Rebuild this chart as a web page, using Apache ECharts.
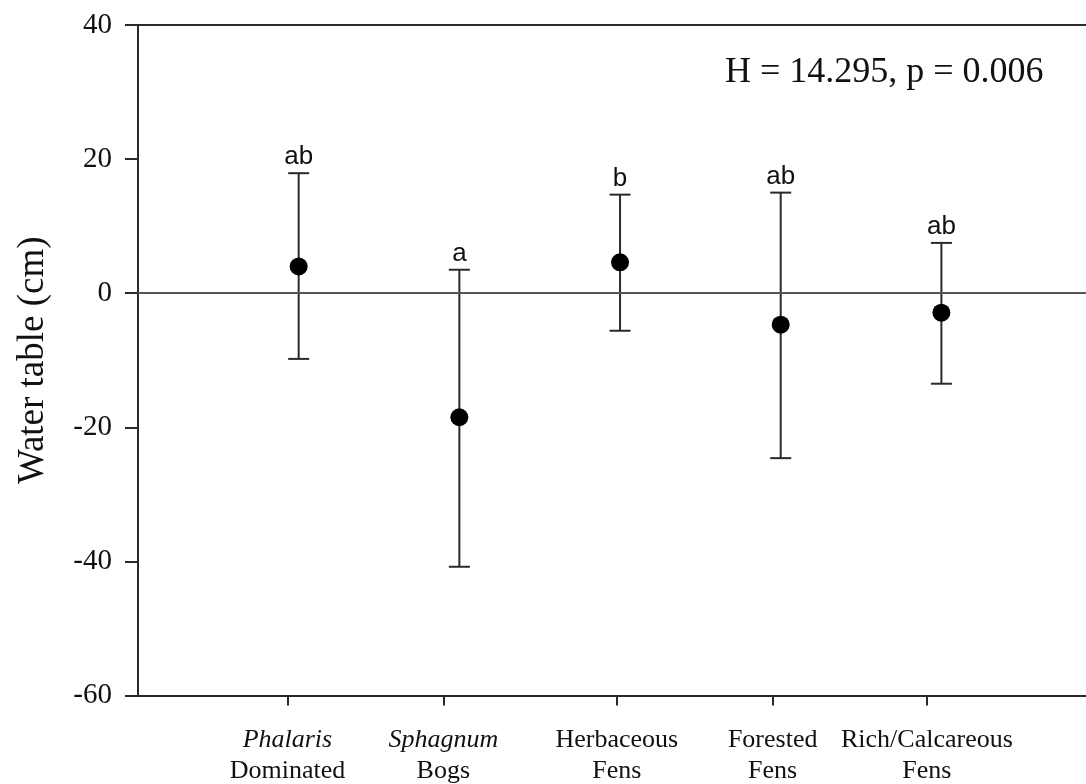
<!DOCTYPE html>
<html>
<head>
<meta charset="utf-8">
<script src="https://cdn.jsdelivr.net/npm/echarts@6/dist/echarts.min.js"></script>
<style>
html,body{margin:0;padding:0;background:#fff;}
#chart{width:1086px;height:784px;}
</style>
</head>
<body>
<div id="chart"></div>
<script>
// ---- data ----
const categories = ['Phalaris', 'Sphagnum', 'Herbaceous', 'Forested', 'Rich/Calcareous'];
const secondLine = ['Dominated', 'Bogs', 'Fens', 'Fens', 'Fens'];
const italicFirst = [true, true, false, false, false];
const means = [4.0, -18.5, 4.6, -4.7, -2.9];
const upper = [17.9, 3.5, 14.7, 15.0, 7.5];
const lower = [-9.8, -40.8, -5.6, -24.6, -13.5];
const letters = ['ab', 'a', 'b', 'ab', 'ab'];
const groupPositions = [1, 2, 3, 4, 5];
const categoryTickPositions = [0.93, 1.90, 2.98, 3.95, 4.91];
const yMin = -60, yMax = 40, yInterval = 20;
const statText = 'H = 14.295, p = 0.006';

const serif = '"Liberation Serif", "Times New Roman", serif';
const sans = '"Liberation Sans", Arial, sans-serif';
const axisColor = '#2a2a2a';

const errData = groupPositions.map((x, i) => [x, lower[i], upper[i], letters[i]]);
const pointData = groupPositions.map((x, i) => [x, means[i]]);

const chart = echarts.init(document.getElementById('chart'), null, {renderer: 'canvas'});

const option = {
  animation: false,
  backgroundColor: '#fff',
  grid: {left: 138, right: 0, top: 25, bottom: 87, containLabel: false},
  xAxis: [{
    type: 'value', position: 'bottom', min: 0, max: 5.9,
    splitLine: {show: false},
    axisLine: {show: true, onZero: false, lineStyle: {color: axisColor, width: 2}},
    axisTick: {show: true, inside: false, length: 10, customValues: categoryTickPositions,
      lineStyle: {color: axisColor, width: 2}},
    axisLabel: {
      show: true, margin: 29, customValues: categoryTickPositions,
      formatter: function (v) {
        let idx = 0, best = Infinity;
        categoryTickPositions.forEach((p, i) => { const d = Math.abs(p - v); if (d < best) { best = d; idx = i; } });
        const first = italicFirst[idx] ? '{i|' + categories[idx] + '}' : '{n|' + categories[idx] + '}';
        return first + '\n{n|' + secondLine[idx] + '}';
      },
      rich: {
        i: {fontFamily: serif, fontStyle: 'italic', fontSize: 26, lineHeight: 31, color: '#111'},
        n: {fontFamily: serif, fontSize: 26, lineHeight: 31, color: '#111'}
      }
    }
  }, {
    type: 'value', position: 'top', min: 0, max: 5.9,
    splitLine: {show: false},
    axisLine: {show: true, onZero: false, lineStyle: {color: axisColor, width: 2}},
    axisTick: {show: false}, axisLabel: {show: false}
  }],
  yAxis: {
    type: 'value', min: yMin, max: yMax, interval: yInterval,
    name: 'Water table (cm)', nameLocation: 'middle', nameGap: 86,
    nameTextStyle: {fontFamily: serif, fontSize: 37, color: '#111'},
    splitLine: {show: false},
    axisLine: {show: true, onZero: false, lineStyle: {color: axisColor, width: 2}},
    axisTick: {show: true, inside: false, length: 13, lineStyle: {color: axisColor, width: 2}},
    axisLabel: {margin: 26, fontFamily: serif, fontSize: 29, color: '#111'}
  },
  series: [{
    type: 'custom',
    xAxisIndex: 0,
    data: errData,
    z: 3,
    renderItem: function (params, api) {
      const x = api.value(0);
      const lo = api.coord([x, api.value(1)]);
      const hi = api.coord([x, api.value(2)]);
      const half = 10.5;
      const style = {stroke: axisColor, lineWidth: 2};
      return {
        type: 'group',
        children: [
          {type: 'line', shape: {x1: lo[0], y1: lo[1], x2: hi[0], y2: hi[1]}, style: style},
          {type: 'line', shape: {x1: lo[0] - half, y1: lo[1], x2: lo[0] + half, y2: lo[1]}, style: style},
          {type: 'line', shape: {x1: hi[0] - half, y1: hi[1], x2: hi[0] + half, y2: hi[1]}, style: style},
          {type: 'text', style: {text: api.value(3), x: hi[0], y: hi[1] - 3,
            align: 'center', verticalAlign: 'bottom', fontFamily: sans, fontSize: 26, fill: '#111'}}
        ]
      };
    }
  }, {
    type: 'scatter',
    data: pointData,
    symbol: 'circle',
    symbolSize: 18,
    itemStyle: {color: '#000', opacity: 1},
    z: 5,
    markLine: {
      silent: true, symbol: ['none', 'none'], label: {show: false},
      lineStyle: {color: '#555', width: 2, type: 'solid'},
      data: [{yAxis: 0}]
    }
  }],
  graphic: [{
    type: 'text', left: 725, top: 55,
    style: {text: statText, fontFamily: serif, fontSize: 36, fill: '#111'}
  }]
};
chart.setOption(option);
</script>
</body>
</html>
